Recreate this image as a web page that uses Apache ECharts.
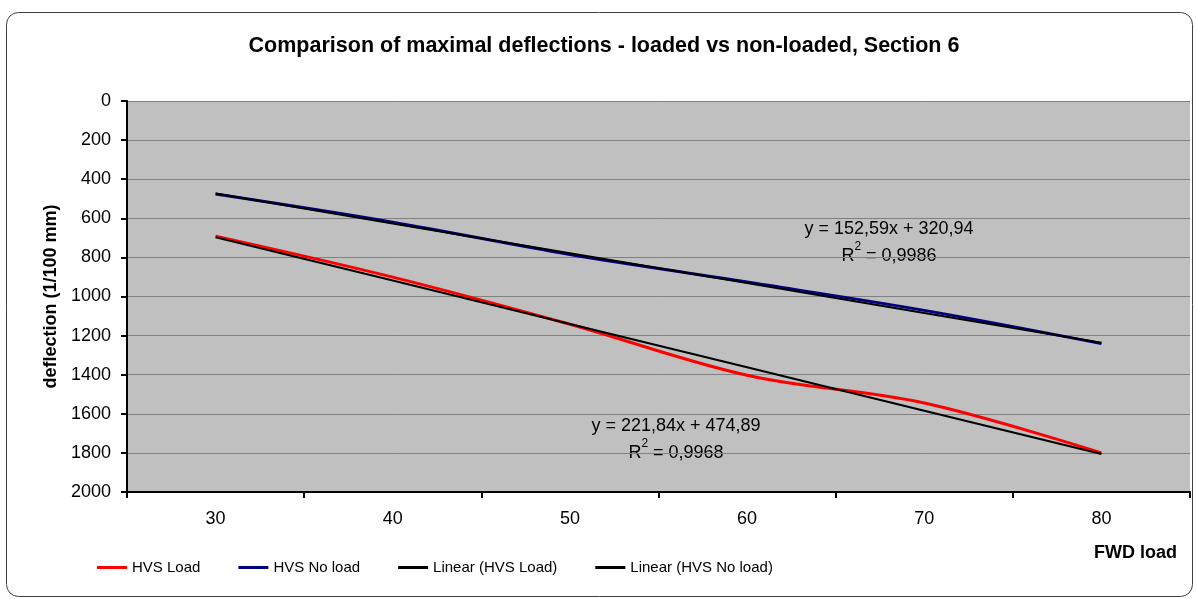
<!DOCTYPE html>
<html>
<head>
<meta charset="utf-8">
<title>Comparison of maximal deflections</title>
<script src="https://cdn.jsdelivr.net/npm/echarts@6/dist/echarts.min.js"></script>
<style>
  html, body { margin: 0; padding: 0; background: #ffffff; }
  #chart { width: 1197px; height: 599px; }
</style>
</head>
<body>
<div id="chart"></div>
<script>
// FWD load categories (kN)
const categories = ['30', '40', '50', '60', '70', '80'];

// Maximal deflections (1/100 mm)
const hvsLoad = [691, 901, 1142, 1403, 1545, 1800];
const hvsNoLoad = [476, 620, 785, 926, 1071, 1241];

// Linear trendline coefficients, x = category index starting at 1
const trendLoad = { slope: 221.84, intercept: 474.89, r2: '0,9968', label: 'y = 221,84x + 474,89' };
const trendNoLoad = { slope: 152.59, intercept: 320.94, r2: '0,9986', label: 'y = 152,59x + 320,94' };

const trendValues = t => categories.map((_, i) => +(t.slope * (i + 1) + t.intercept).toFixed(2));

const FONT = '"Liberation Sans", Arial, sans-serif';

const chart = echarts.init(document.getElementById('chart'), null, { renderer: 'canvas' });

// Trendline equation and R² shown as two centred lines
function equationText(t, cx, cy) {
  return {
    type: 'group',
    silent: true,
    children: [
      {
        type: 'text', x: cx, y: cy,
        style: { text: t.label, fontFamily: FONT, fontSize: 18, fill: '#000', align: 'center', verticalAlign: 'middle' }
      },
      {
        type: 'text', x: cx, y: cy + 27,
        style: {
          text: 'R{sup|2} = ' + t.r2,
          fontFamily: FONT, fontSize: 18, lineHeight: 30, fill: '#000', align: 'center', verticalAlign: 'middle',
          rich: {
            sup: { fontFamily: FONT, fontSize: 12, lineHeight: 3, verticalAlign: 'top', fill: '#000' }
          }
        }
      }
    ]
  };
}

const option = {
  animation: false,
  backgroundColor: '#ffffff',
  title: {
    text: 'Comparison of maximal deflections - loaded vs non-loaded, Section 6',
    left: 599,
    top: 30,
    textAlign: 'center',
    textStyle: { fontFamily: FONT, fontSize: 21.5, fontWeight: 'bold', color: '#000' }
  },
  legend: {
    left: 92,
    top: 555,
    icon: 'rect',
    itemWidth: 30,
    itemHeight: 3,
    itemGap: 38,
    textStyle: { fontFamily: FONT, fontSize: 15, color: '#000' },
    data: ['HVS Load', 'HVS No load', 'Linear (HVS Load)', 'Linear (HVS No load)']
  },
  grid: {
    left: 127, right: 7, top: 101, bottom: 107,
    show: true, backgroundColor: '#C0C0C0', borderWidth: 0
  },
  xAxis: {
    type: 'category',
    data: categories,
    boundaryGap: true,
    name: 'FWD load',
    nameLocation: 'end',
    nameGap: 0,
    nameTextStyle: {
      fontFamily: FONT, fontSize: 18, fontWeight: 'bold', color: '#000',
      align: 'right', verticalAlign: 'top', padding: [52, 13, 0, 0]
    },
    axisLine: { onZero: false, lineStyle: { color: '#000', width: 2 } },
    axisTick: { show: true, length: 6, lineStyle: { color: '#000', width: 2 } },
    axisLabel: { fontFamily: FONT, fontSize: 18, color: '#000', margin: 18 },
    splitLine: { show: false }
  },
  yAxis: {
    type: 'value',
    inverse: true,
    min: 0,
    max: 2000,
    interval: 200,
    name: 'deflection (1/100 mm)',
    nameLocation: 'middle',
    nameGap: 57,
    nameTextStyle: { fontFamily: FONT, fontSize: 18, fontWeight: 'bold', color: '#000' },
    axisLine: { show: true, lineStyle: { color: '#000', width: 2 } },
    axisTick: { show: true, length: 6, lineStyle: { color: '#000', width: 2 } },
    axisLabel: { fontFamily: FONT, fontSize: 18, color: '#000', margin: 16, formatter: v => String(v) },
    splitLine: { show: true, lineStyle: { color: '#808080', width: 1 } }
  },
  series: [
    {
      name: 'HVS Load', type: 'line', data: hvsLoad,
      smooth: 0.35, showSymbol: false, color: '#FF0000',
      lineStyle: { color: '#FF0000', width: 3 }
    },
    {
      name: 'HVS No load', type: 'line', data: hvsNoLoad,
      smooth: 0.35, showSymbol: false, color: '#000080',
      lineStyle: { color: '#000080', width: 3 }
    },
    {
      name: 'Linear (HVS Load)', type: 'line', data: trendValues(trendLoad),
      showSymbol: false, color: '#000000',
      lineStyle: { color: '#000000', width: 2 }
    },
    {
      name: 'Linear (HVS No load)', type: 'line', data: trendValues(trendNoLoad),
      showSymbol: false, color: '#000000',
      lineStyle: { color: '#000000', width: 2 }
    }
  ],
  graphic: [
    {
      type: 'rect', silent: true, z: -10,
      shape: { x: 6.5, y: 12.5, width: 1186, height: 584, r: 12 },
      style: { fill: 'none', stroke: '#404040', lineWidth: 1 }
    },
    equationText(trendNoLoad, 889, 229),
    equationText(trendLoad, 676, 426)
  ]
};

chart.setOption(option);
</script>
</body>
</html>
